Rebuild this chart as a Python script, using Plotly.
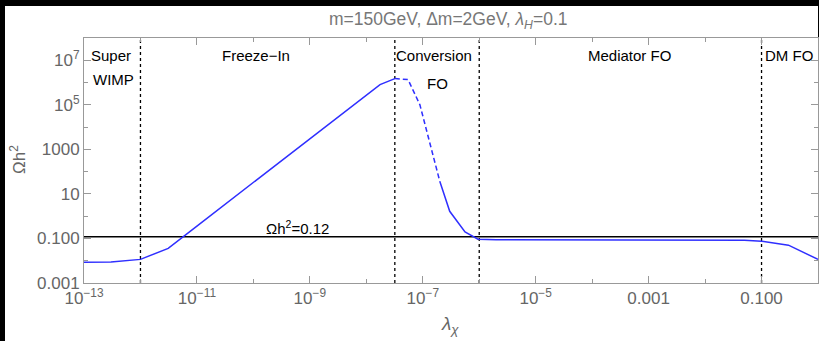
import plotly.graph_objects as go

# ---- data ----
x_solid1 = [1e-13, 3e-13, 1e-12, 3.1e-12, 1e-11, 1e-10, 1e-9, 1e-8, 1.75e-8, 3.2e-8]
y_solid1 = [0.0085, 0.0088, 0.0115, 0.036, 0.36, 33, 3000, 2.75e5, 8.1e5, 1.5e6]
x_dash = [3.2e-8, 5.5e-8, 8.9e-8, 2.0e-7]
y_dash = [1.5e6, 1.35e6, 1.0e5, 37]
x_solid2 = [2.0e-7, 3.0e-7, 5.6e-7, 9.5e-7, 2e-6, 1e-4, 0.01, 0.05, 0.1, 0.3, 1]
y_solid2 = [37, 1.66, 0.195, 0.093, 0.087, 0.086, 0.086, 0.083, 0.075, 0.05, 0.0115]

omega_obs = 0.12
x_full = [1e-13, 1]
y_full = [1e-3, 1e8]
boundaries = [1e-12, 3.2e-8, 1e-6, 0.1]

x_tickvals = [1e-13, 1e-11, 1e-9, 1e-7, 1e-5, 1e-3, 0.1]
x_ticktext = ["10<sup>\u221213</sup>", "10<sup>\u221211</sup>", "10<sup>\u22129</sup>",
              "10<sup>\u22127</sup>", "10<sup>\u22125</sup>", "0.001", "0.100"]
x_minor = [1e-12, 1e-10, 1e-8, 1e-6, 1e-4, 1e-2, 1]
y_tickvals = [1e-3, 0.1, 10, 1000, 1e5, 1e7]
y_ticktext = ["0.001", "0.100", "10", "1000", "10<sup>5</sup>", "10<sup>7</sup>"]
y_minor = [1e-2, 1, 100, 1e4, 1e6, 1e8]

W, H = 819, 341
L, R, T, B = 84, 1, 38, 58
PW, PH = W - L - R, H - T - B

def px(x):
    return (x - L) / PW

def py(y):
    return (H - B - y) / PH

FONT = "Liberation Sans, Arial, sans-serif"
BLUE = "#2f2fff"
GRAY = "#666666"
AX = "#999999"

fig = go.Figure()

# vertical boundaries
for b in boundaries:
    fig.add_trace(go.Scatter(x=[b, b], y=y_full, mode="lines",
                             line=dict(color="black", width=1.3, dash="dot"),
                             hoverinfo="skip", showlegend=False))
# observed relic density
fig.add_trace(go.Scatter(x=x_full, y=[omega_obs, omega_obs], mode="lines",
                         line=dict(color="black", width=1.5), showlegend=False))
# curve
fig.add_trace(go.Scatter(x=x_solid1, y=y_solid1, mode="lines",
                         line=dict(color=BLUE, width=1.5), showlegend=False))
fig.add_trace(go.Scatter(x=x_dash, y=y_dash, mode="lines",
                         line=dict(color=BLUE, width=1.5, dash="5px,3px"), showlegend=False))
fig.add_trace(go.Scatter(x=x_solid2, y=y_solid2, mode="lines",
                         line=dict(color=BLUE, width=1.5), showlegend=False))

axis_common = dict(type="log", showgrid=False, zeroline=False, showline=True,
                   linecolor=AX, linewidth=1, mirror="allticks", ticks="inside",
                   ticklen=7, tickcolor=AX, tickwidth=1,
                   tickfont=dict(family=FONT, size=17, color=GRAY))

fig.update_xaxes(**axis_common, range=[-13, 0], tickmode="array",
                 tickvals=x_tickvals, ticktext=x_ticktext,
                 minor=dict(tickmode="array", tickvals=x_minor, ticklen=4,
                            tickcolor=AX, ticks="inside"))
fig.update_yaxes(**axis_common, range=[-3, 8], tickmode="array",
                 tickvals=y_tickvals, ticktext=y_ticktext,
                 minor=dict(tickmode="array", tickvals=y_minor, ticklen=4,
                            tickcolor=AX, ticks="inside"))

ann = []
def text(s, x, y, size=15, color="black", angle=0):
    ann.append(dict(text=s, x=px(x), y=py(y), xref="paper", yref="paper",
                    showarrow=False, xanchor="center", yanchor="middle",
                    textangle=angle,
                    font=dict(family=FONT, size=size, color=color)))

text("Super", 111, 55)
text("WIMP", 113, 79)
text("Freeze\u2212In", 256, 55)
text("Conversion", 434, 55)
text("FO", 437, 83)
text("Mediator FO", 629, 55)
text("DM FO", 789, 55)
text("\u03a9h<sup>2</sup>=0.12", 297, 227)
text("m=150GeV, \u0394m=2GeV, <i>\u03bb<sub>H</sub></i>=0.1", 448, 20, size=17.5, color="#777777")
text("\u03a9h<sup>2</sup>", 18, 160, size=17, color=GRAY, angle=-90)
text("<i>\u03bb<sub>\u03c7</sub></i>", 450, 325, size=19, color=GRAY)

fig.update_layout(
    width=W, height=H, margin=dict(l=L, r=R, t=T, b=B),
    paper_bgcolor="black", plot_bgcolor="white",
    annotations=ann,
    shapes=[dict(type="rect", xref="paper", yref="paper", layer="below",
                 x0=px(5), x1=px(818), y0=py(341), y1=py(6),
                 fillcolor="white", line=dict(width=0)),
            dict(type="rect", xref="paper", yref="paper", layer="below",
                 x0=px(817), x1=px(819), y0=py(341), y1=py(255),
                 fillcolor="white", line=dict(width=0))],
    showlegend=False,
)

fig.write_html("out.html", config={"displayModeBar": False},
               post_script="document.body.style.margin='0';"
                           "document.body.style.overflow='hidden';")
